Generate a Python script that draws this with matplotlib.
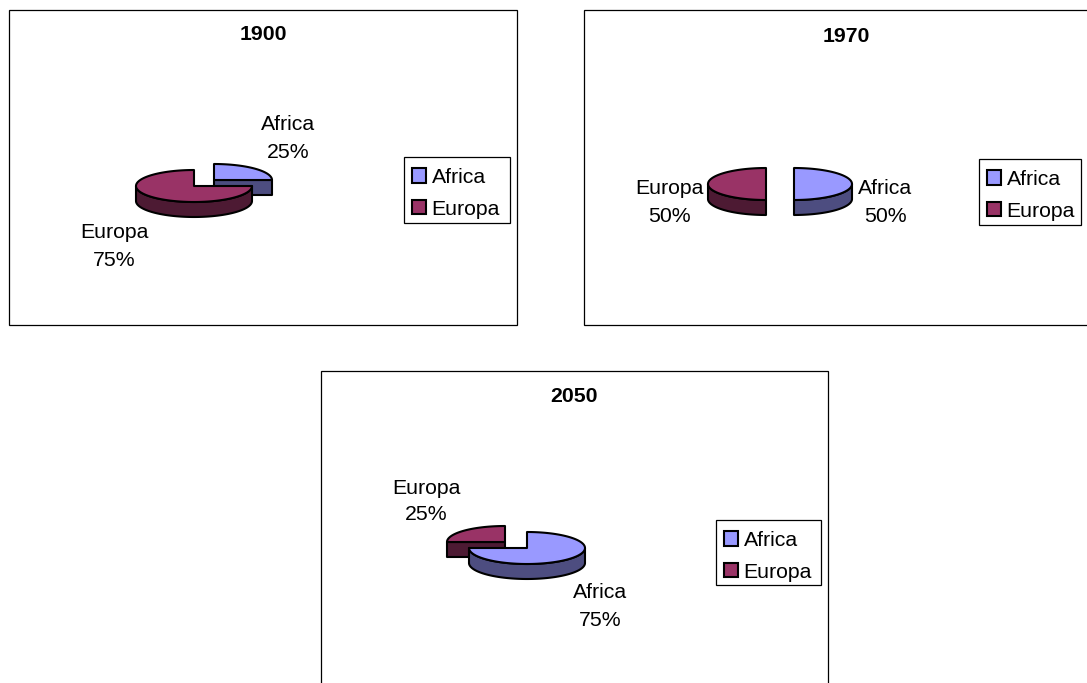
import numpy as np
import matplotlib
matplotlib.use("Agg")
import matplotlib.pyplot as plt
from matplotlib.patches import Polygon, Rectangle, Patch

plt.rcParams['font.family'] = ['Liberation Sans', 'DejaVu Sans']

categories = ["Africa", "Europa"]
years = ["1900", "1970", "2050"]
africa_share = [25, 50, 75]
europa_share = [75, 50, 25]

TOP = {"Africa": "#9999FF", "Europa": "#993366"}
SIDE = {"Africa": "#4D4D80", "Europa": "#4D1A33"}
RX, RY, DEPTH = 58, 16, 15
FS = 15.3
LW = 1.5

layouts = [
    dict(frame=(9, 10, 508, 315), title=(263, 35), legend=(404, 157, 106, 66),
         centers={"Africa": (214, 180), "Europa": (194, 186)},
         labels={"Africa": (288, 125), "Europa": (114, 233)}, order=["Africa", "Europa"]),
    dict(frame=(584, 10, 508, 315), title=(846, 37), legend=(979, 159, 102, 66),
         centers={"Africa": (794, 184), "Europa": (766, 184)},
         labels={"Africa": (885, 189), "Europa": (669, 189)}, order=["Africa", "Europa"]),
    dict(frame=(321, 371, 507, 330), title=(574, 397), legend=(716, 520, 105, 65),
         centers={"Africa": (527, 548), "Europa": (505, 542)},
         labels={"Africa": (600, 593), "Europa": (426, 488)}, order=["Europa", "Africa"]),
]

fig = plt.figure(figsize=(10.87, 6.83), dpi=100)
ax = fig.add_axes([0, 0, 1, 1])
ax.set_xlim(0, 1087)
ax.set_ylim(683, 0)
ax.axis("off")


def rim_xy(c, t):
    r = np.radians(t)
    return c[0] + RX * np.sin(r), c[1] - RY * np.cos(r)


def draw_wedge(c, t0, t1, name):
    # radial cut faces that look toward the viewer
    for t, visible in ((t0, np.sin(np.radians(t0)) < -1e-9), (t1, np.sin(np.radians(t1)) > 1e-9)):
        if visible:
            x, y = rim_xy(c, t)
            ax.add_patch(Polygon([c, (x, y), (x, y + DEPTH), (c[0], c[1] + DEPTH)], closed=True,
                                 fc=SIDE[name], ec="black", lw=LW, joinstyle="round", zorder=3))
    # outer rim, front half only
    a, b = max(t0, 90), min(t1, 270)
    if b > a:
        ts = np.linspace(a, b, 80)
        x, y = rim_xy(c, ts)
        pts = np.r_[np.c_[x, y], np.c_[x[::-1], y[::-1] + DEPTH]]
        ax.add_patch(Polygon(pts, closed=True, fc=SIDE[name], ec="black", lw=LW,
                             joinstyle="round", zorder=3))
    # top face
    ts = np.linspace(t0, t1, 120)
    x, y = rim_xy(c, ts)
    pts = np.r_[[c], np.c_[x, y]]
    ax.add_patch(Polygon(pts, closed=True, fc=TOP[name], ec="black", lw=LW,
                         joinstyle="round", zorder=3))


for i, lay in enumerate(layouts):
    fx, fy, fw, fh = lay["frame"]
    ax.add_patch(Rectangle((fx, fy), fw, fh, fc="white", ec="black", lw=0.9, zorder=1))
    ax.text(*lay["title"], years[i], ha="center", va="center", fontsize=FS,
            fontweight="bold", zorder=5)
    shares = {"Africa": africa_share[i], "Europa": europa_share[i]}
    total = sum(shares.values())
    start = {"Africa": 0.0, "Europa": 360.0 * shares["Africa"] / total}
    for name in lay["order"]:
        t0 = start[name]
        t1 = t0 + 360.0 * shares[name] / total
        draw_wedge(lay["centers"][name], t0, t1, name)
    for name in categories:
        lx, ly = lay["labels"][name]
        ax.text(lx, ly, name, ha="center", va="center", fontsize=FS, zorder=5)
        ax.text(lx, ly + 27, f"{shares[name]}%", ha="center", va="center", fontsize=FS, zorder=5)

    lgx, lgy, lgw, lgh = lay["legend"]
    ax.add_patch(Rectangle((lgx, lgy), lgw, lgh, fc="white", ec="black", lw=0.9, zorder=4))
    handles = [Patch(fc=TOP[n], ec="black", lw=LW, label=n) for n in categories]
    leg = ax.legend(handles=handles, loc="upper left", bbox_to_anchor=(lgx + 1, lgy + 3.5),
                    bbox_transform=ax.transData, fontsize=FS, frameon=False,
                    borderaxespad=0, borderpad=0.35,
                    handlelength=0.65, handleheight=0.65, handletextpad=0.25, labelspacing=0.6)
    leg.set_zorder(6)
    ax.add_artist(leg)
    ax.legend_ = None

fig.savefig("out.png", dpi=100)
